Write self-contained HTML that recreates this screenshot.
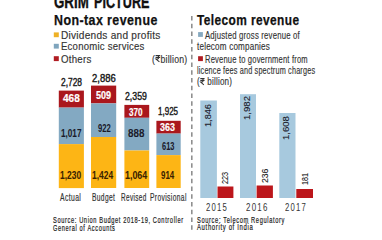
<!DOCTYPE html>
<html><head><meta charset="utf-8">
<style>
html,body{margin:0;padding:0;background:#fff;width:382px;height:233px;overflow:hidden;position:relative}
.t{position:absolute;white-space:nowrap;transform-origin:0 0;font-family:"Liberation Sans",sans-serif}
.rs{display:inline-block;width:0.62em;height:0.7em;position:relative;vertical-align:baseline}
.rs svg{position:absolute;left:0.03em;bottom:0;width:0.56em;height:0.69em;overflow:visible}
svg.bg{position:absolute;left:0;top:0}
</style></head><body>
<svg class="bg" width="382" height="233" viewBox="0 0 382 233">
 <!-- divider -->
 <line x1="191.8" y1="15.9" x2="191.8" y2="233" stroke="#8f8f8f" stroke-width="1.6" stroke-dasharray="4.5 3.25"/>
 <!-- left legend squares -->
 <rect x="53.8" y="32.4" width="5" height="4.8" fill="#eeb126"/>
 <rect x="53.8" y="43.8" width="5" height="4.8" fill="#7fa5bd"/>
 <rect x="53.8" y="56.2" width="5" height="4.9" fill="#b01c22"/>
 <!-- left bars -->
 <rect x="58.8" y="90.6" width="25.1" height="17" fill="#aa171d"/>
 <rect x="58.8" y="107.6" width="25.1" height="36.5" fill="#83a9c2"/>
 <rect x="58.8" y="144.1" width="25.1" height="44" fill="#fdb515"/>
 <rect x="91" y="85.6" width="25.2" height="17.8" fill="#aa171d"/>
 <rect x="91" y="103.4" width="25.2" height="33.6" fill="#83a9c2"/>
 <rect x="91" y="137" width="25.2" height="51" fill="#fdb515"/>
 <rect x="124.4" y="104.9" width="24.8" height="12.9" fill="#aa171d"/>
 <rect x="124.4" y="117.8" width="24.8" height="32.7" fill="#83a9c2"/>
 <rect x="124.4" y="150.5" width="24.8" height="37.5" fill="#fdb515"/>
 <rect x="156.4" y="120.8" width="24.3" height="12.8" fill="#aa171d"/>
 <rect x="156.4" y="133.6" width="24.3" height="21.5" fill="#83a9c2"/>
 <rect x="156.4" y="155.1" width="24.3" height="32.9" fill="#fdb515"/>
 <!-- right legend squares -->
 <rect x="198.1" y="32.1" width="4.8" height="4.8" fill="#86a9c0"/>
 <rect x="198.1" y="56.2" width="4.8" height="4.9" fill="#b01c22"/>
 <!-- right bars -->
 <rect x="200.3" y="100.5" width="16.6" height="97.5" fill="#a7c9de"/>
 <rect x="217.5" y="186.5" width="15.9" height="11.5" fill="#bc161b"/>
 <rect x="240" y="94.2" width="16" height="103.8" fill="#a7c9de"/>
 <rect x="256.6" y="185.5" width="16.3" height="12.5" fill="#bc161b"/>
 <rect x="279.3" y="113" width="16.2" height="85" fill="#a7c9de"/>
 <rect x="296.3" y="189" width="16.7" height="9" fill="#bc161b"/>
</svg>
<div class="t" style="left:53.97px;top:-6.50px;font-weight:700;font-size:17.442px;line-height:17.442px;color:#111;-webkit-text-stroke:0.35px #111;letter-spacing:0.0px;transform:scaleX(0.7625)">GRIM</div>
<div class="t" style="left:93.77px;top:-6.50px;font-weight:700;font-size:17.442px;line-height:17.442px;color:#111;-webkit-text-stroke:0.35px #111;letter-spacing:0.0px;transform:scaleX(0.7251)">PICTURE</div>
<div class="t" style="left:53.87px;top:12.52px;font-weight:700;font-size:14.390px;line-height:14.390px;color:#111;-webkit-text-stroke:0.25px #111;letter-spacing:0.5px;transform:scaleX(0.8635)">Non-tax revenue</div>
<div class="t" style="left:60.58px;top:30.85px;font-weight:400;font-size:10.175px;line-height:10.175px;color:#333;-webkit-text-stroke:0.15px #333;letter-spacing:0.25px;transform:scaleX(0.9947)">Dividends and profits</div>
<div class="t" style="left:60.91px;top:42.35px;font-weight:400;font-size:10.175px;line-height:10.175px;color:#333;-webkit-text-stroke:0.15px #333;letter-spacing:0.25px;transform:scaleX(0.9404)">Economic services</div>
<div class="t" style="left:60.87px;top:54.60px;font-weight:400;font-size:10.175px;line-height:10.175px;color:#333;-webkit-text-stroke:0.15px #333;letter-spacing:0.25px;transform:scaleX(0.9549)">Others</div>
<div class="t" style="left:151.53px;top:54.50px;font-weight:400;font-size:10.175px;line-height:10.175px;color:#333;-webkit-text-stroke:0.15px #333;letter-spacing:0.25px;transform:scaleX(0.8569)">(<span class="rs"><svg viewBox="0 0 10 14" preserveAspectRatio="none"><path d="M0.3 1.1H9.7M0.3 4.9H9.7M0.8 1.1H3.6C7.8 1.1 7.8 8.3 3.6 8.3H1.3L8.2 13.8" fill="none" stroke="currentColor" stroke-width="2.3"/></svg></span>billion)</div>
<div class="t" style="left:60.63px;top:77.50px;font-weight:400;font-size:10.029px;line-height:10.029px;color:#1a1a1a;-webkit-text-stroke:0.4px #1a1a1a;letter-spacing:0.0px;transform:scaleX(0.8377)">2,728</div>
<div class="t" style="left:91.70px;top:73.75px;font-weight:400;font-size:10.029px;line-height:10.029px;color:#1a1a1a;-webkit-text-stroke:0.4px #1a1a1a;letter-spacing:0.0px;transform:scaleX(0.9435)">2,886</div>
<div class="t" style="left:125.00px;top:91.95px;font-weight:400;font-size:10.029px;line-height:10.029px;color:#1a1a1a;-webkit-text-stroke:0.4px #1a1a1a;letter-spacing:0.0px;transform:scaleX(0.8721)">2,359</div>
<div class="t" style="left:158.06px;top:107.30px;font-weight:400;font-size:10.029px;line-height:10.029px;color:#1a1a1a;-webkit-text-stroke:0.4px #1a1a1a;letter-spacing:0.0px;transform:scaleX(0.8002)">1,925</div>
<div class="t" style="left:62.59px;top:94.35px;font-weight:700;font-size:10.175px;line-height:10.175px;color:#fff;-webkit-text-stroke:0.2px #fff;letter-spacing:0.0px;transform:scaleX(0.9889)">468</div>
<div class="t" style="left:96.32px;top:91.05px;font-weight:700;font-size:10.175px;line-height:10.175px;color:#fff;-webkit-text-stroke:0.2px #fff;letter-spacing:0.0px;transform:scaleX(0.8895)">509</div>
<div class="t" style="left:129.24px;top:107.50px;font-weight:700;font-size:10.175px;line-height:10.175px;color:#fff;-webkit-text-stroke:0.2px #fff;letter-spacing:0.0px;transform:scaleX(0.7996)">370</div>
<div class="t" style="left:160.30px;top:122.50px;font-weight:700;font-size:10.175px;line-height:10.175px;color:#fff;-webkit-text-stroke:0.2px #fff;letter-spacing:0.0px;transform:scaleX(0.8770)">363</div>
<div class="t" style="left:60.98px;top:128.65px;font-weight:700;font-size:10.175px;line-height:10.175px;color:#1a1a2a;-webkit-text-stroke:0.05px #1a1a2a;letter-spacing:0.0px;transform:scaleX(0.8036)">1,017</div>
<div class="t" style="left:97.58px;top:124.35px;font-weight:700;font-size:10.175px;line-height:10.175px;color:#1a1a2a;-webkit-text-stroke:0.05px #1a1a2a;letter-spacing:0.0px;transform:scaleX(0.7547)">922</div>
<div class="t" style="left:128.31px;top:128.70px;font-weight:700;font-size:10.175px;line-height:10.175px;color:#1a1a2a;-webkit-text-stroke:0.05px #1a1a2a;letter-spacing:0.0px;transform:scaleX(0.9666)">888</div>
<div class="t" style="left:162.28px;top:142.25px;font-weight:700;font-size:10.175px;line-height:10.175px;color:#1a1a2a;-webkit-text-stroke:0.05px #1a1a2a;letter-spacing:0.0px;transform:scaleX(0.7364)">613</div>
<div class="t" style="left:60.36px;top:170.75px;font-weight:700;font-size:10.175px;line-height:10.175px;color:#3a2200;-webkit-text-stroke:0.05px #3a2200;letter-spacing:0.0px;transform:scaleX(0.8296)">1,230</div>
<div class="t" style="left:92.46px;top:171.10px;font-weight:700;font-size:10.175px;line-height:10.175px;color:#3a2200;-webkit-text-stroke:0.05px #3a2200;letter-spacing:0.0px;transform:scaleX(0.8304)">1,424</div>
<div class="t" style="left:124.93px;top:170.90px;font-weight:700;font-size:10.175px;line-height:10.175px;color:#3a2200;-webkit-text-stroke:0.05px #3a2200;letter-spacing:0.0px;transform:scaleX(0.8747)">1,064</div>
<div class="t" style="left:161.07px;top:170.90px;font-weight:700;font-size:10.175px;line-height:10.175px;color:#3a2200;-webkit-text-stroke:0.05px #3a2200;letter-spacing:0.0px;transform:scaleX(0.7796)">914</div>
<div class="t" style="left:60.33px;top:192.65px;font-weight:400;font-size:10.320px;line-height:10.320px;color:#333;-webkit-text-stroke:0.2px #333;letter-spacing:0.6px;transform:scaleX(0.6591)">Actual</div>
<div class="t" style="left:91.73px;top:192.95px;font-weight:400;font-size:10.320px;line-height:10.320px;color:#333;-webkit-text-stroke:0.2px #333;letter-spacing:0.6px;transform:scaleX(0.6421)">Budget</div>
<div class="t" style="left:121.35px;top:192.95px;font-weight:400;font-size:10.320px;line-height:10.320px;color:#333;-webkit-text-stroke:0.2px #333;letter-spacing:0.6px;transform:scaleX(0.6192)">Revised</div>
<div class="t" style="left:150.03px;top:192.95px;font-weight:400;font-size:10.320px;line-height:10.320px;color:#333;-webkit-text-stroke:0.2px #333;letter-spacing:0.6px;transform:scaleX(0.6451)">Provisional</div>
<div class="t" style="left:52.70px;top:216.80px;font-weight:400;font-size:8.140px;line-height:8.140px;color:#222;-webkit-text-stroke:0.2px #222;letter-spacing:0.9px;transform:scaleX(0.6978)">Source: Union Budget 2018-19, Controller</div>
<div class="t" style="left:52.86px;top:225.10px;font-weight:400;font-size:8.140px;line-height:8.140px;color:#222;-webkit-text-stroke:0.2px #222;letter-spacing:0.9px;transform:scaleX(0.6928)">General of Accounts</div>
<div class="t" style="left:197.16px;top:12.52px;font-weight:700;font-size:14.099px;line-height:14.099px;color:#111;-webkit-text-stroke:0.25px #111;letter-spacing:0.5px;transform:scaleX(0.8437)">Telecom revenue</div>
<div class="t" style="left:205.09px;top:30.85px;font-weight:400;font-size:10.175px;line-height:10.175px;color:#333;-webkit-text-stroke:0.15px #333;letter-spacing:0.25px;transform:scaleX(0.7638)">Adjusted gross revenue of</div>
<div class="t" style="left:197.25px;top:42.40px;font-weight:400;font-size:10.175px;line-height:10.175px;color:#333;-webkit-text-stroke:0.15px #333;letter-spacing:0.25px;transform:scaleX(0.7963)">telecom companies</div>
<div class="t" style="left:204.76px;top:55.05px;font-weight:400;font-size:10.175px;line-height:10.175px;color:#333;-webkit-text-stroke:0.15px #333;letter-spacing:0.25px;transform:scaleX(0.7449)">Revenue to government from</div>
<div class="t" style="left:197.05px;top:66.40px;font-weight:400;font-size:10.175px;line-height:10.175px;color:#333;-webkit-text-stroke:0.15px #333;letter-spacing:0.25px;transform:scaleX(0.7156)">licence fees and spectrum charges</div>
<div class="t" style="left:197.07px;top:77.40px;font-weight:400;font-size:10.175px;line-height:10.175px;color:#333;-webkit-text-stroke:0.15px #333;letter-spacing:0.25px;transform:scaleX(0.7927)">(<span class="rs"><svg viewBox="0 0 10 14" preserveAspectRatio="none"><path d="M0.3 1.1H9.7M0.3 4.9H9.7M0.8 1.1H3.6C7.8 1.1 7.8 8.3 3.6 8.3H1.3L8.2 13.8" fill="none" stroke="currentColor" stroke-width="2.3"/></svg></span> billion)</div>
<div class="t" style="left:206.28px;top:202.85px;font-weight:400;font-size:10.320px;line-height:10.320px;color:#333;-webkit-text-stroke:0.0px #333;letter-spacing:1.6px;transform:scaleX(0.7532)">2015</div>
<div class="t" style="left:246.27px;top:202.90px;font-weight:400;font-size:10.320px;line-height:10.320px;color:#333;-webkit-text-stroke:0.0px #333;letter-spacing:1.6px;transform:scaleX(0.7681)">2016</div>
<div class="t" style="left:285.18px;top:202.90px;font-weight:400;font-size:10.320px;line-height:10.320px;color:#333;-webkit-text-stroke:0.0px #333;letter-spacing:1.6px;transform:scaleX(0.7504)">2017</div>
<div class="t" style="left:196.79px;top:216.65px;font-weight:400;font-size:8.140px;line-height:8.140px;color:#222;-webkit-text-stroke:0.2px #222;letter-spacing:0.9px;transform:scaleX(0.7026)">Source: Telecom Regulatory</div>
<div class="t" style="left:197.03px;top:224.25px;font-weight:400;font-size:8.140px;line-height:8.140px;color:#222;-webkit-text-stroke:0.2px #222;letter-spacing:0.9px;transform:scaleX(0.7301)">Authority of India</div>
<div class="t" style="left:205.25px;top:126.77px;font-weight:400;font-size:8.140px;line-height:8.140px;color:#1a1a2a;-webkit-text-stroke:0.1px #1a1a2a;letter-spacing:0.0px;transform:rotate(-90deg) scaleX(1.1284)">1,846</div>
<div class="t" style="left:244.20px;top:119.71px;font-weight:400;font-size:8.140px;line-height:8.140px;color:#1a1a2a;-webkit-text-stroke:0.1px #1a1a2a;letter-spacing:0.0px;transform:rotate(-90deg) scaleX(1.1784)">1,982</div>
<div class="t" style="left:283.00px;top:140.00px;font-weight:400;font-size:8.140px;line-height:8.140px;color:#1a1a2a;-webkit-text-stroke:0.1px #1a1a2a;letter-spacing:0.0px;transform:rotate(-90deg) scaleX(1.1777)">1,608</div>
<div class="t" style="left:220.55px;top:183.98px;font-weight:400;font-size:9.302px;line-height:9.302px;color:#1a1a1a;-webkit-text-stroke:0.1px #1a1a1a;letter-spacing:0.0px;transform:rotate(-90deg) scaleX(0.7832)">223</div>
<div class="t" style="left:261.40px;top:182.76px;font-weight:400;font-size:9.302px;line-height:9.302px;color:#1a1a1a;-webkit-text-stroke:0.1px #1a1a1a;letter-spacing:0.0px;transform:rotate(-90deg) scaleX(0.9275)">236</div>
<div class="t" style="left:300.90px;top:185.15px;font-weight:400;font-size:9.302px;line-height:9.302px;color:#1a1a1a;-webkit-text-stroke:0.1px #1a1a1a;letter-spacing:0.0px;transform:rotate(-90deg) scaleX(0.7622)">181</div>
</body></html>
